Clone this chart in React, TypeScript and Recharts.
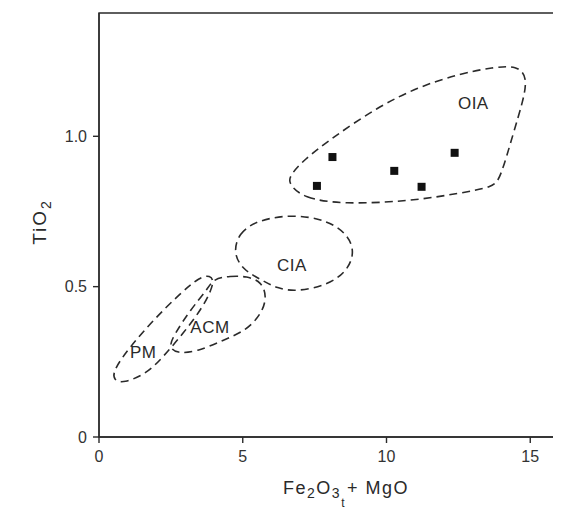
import { ScatterChart, Scatter, XAxis, YAxis, ReferenceArea } from 'recharts';

// axis ticks
const xTicks = [0, 5, 10, 15];
const yTicks = [0, 0.5, 1.0];
const yTickLabels = ['0', '0.5', '1.0'];

// field outlines (Fe2O3t + MgO vs TiO2)
const oiaOutline = [
  { x: 6.58, y: 0.844 }, { x: 7.1, y: 0.794 }, { x: 8.49, y: 0.774 }, { x: 10.82, y: 0.784 },
  { x: 12.57, y: 0.811 }, { x: 13.71, y: 0.831 }, { x: 13.96, y: 0.86 }, { x: 14.41, y: 1.01 },
  { x: 14.76, y: 1.12 }, { x: 14.9, y: 1.196 }, { x: 14.55, y: 1.236 }, { x: 13.71, y: 1.229 },
  { x: 12.57, y: 1.209 }, { x: 11.07, y: 1.163 }, { x: 9.68, y: 1.096 }, { x: 8.14, y: 0.997 },
  { x: 7.1, y: 0.92 }, { x: 6.65, y: 0.87 },
];

const ciaOutline = [
  { x: 4.67, y: 0.61 }, { x: 4.85, y: 0.677 }, { x: 5.49, y: 0.721 }, { x: 6.76, y: 0.741 },
  { x: 7.93, y: 0.721 }, { x: 8.62, y: 0.677 }, { x: 8.91, y: 0.616 }, { x: 8.62, y: 0.549 },
  { x: 7.93, y: 0.505 }, { x: 6.88, y: 0.483 }, { x: 6.19, y: 0.494 }, { x: 5.66, y: 0.522 },
  { x: 5.02, y: 0.555 },
];

const acmOutline = [
  { x: 3.98, y: 0.527 }, { x: 4.56, y: 0.535 }, { x: 5.14, y: 0.535 }, { x: 5.66, y: 0.516 },
  { x: 5.84, y: 0.466 }, { x: 5.66, y: 0.411 }, { x: 5.14, y: 0.355 }, { x: 4.33, y: 0.322 },
  { x: 3.4, y: 0.283 }, { x: 2.7, y: 0.278 }, { x: 2.41, y: 0.3 }, { x: 2.65, y: 0.345 },
  { x: 3.17, y: 0.422 }, { x: 3.75, y: 0.488 },
];

const pmOutline = [
  { x: 3.86, y: 0.538 }, { x: 4.04, y: 0.516 }, { x: 3.63, y: 0.433 }, { x: 2.93, y: 0.345 },
  { x: 2.24, y: 0.267 }, { x: 1.66, y: 0.211 }, { x: 0.85, y: 0.178 }, { x: 0.5, y: 0.189 },
  { x: 0.5, y: 0.223 }, { x: 1.08, y: 0.3 }, { x: 1.89, y: 0.389 }, { x: 2.82, y: 0.477 },
  { x: 3.52, y: 0.533 },
];

// sample points (filled squares)
const samples = [
  { x: 8.12, y: 0.931 },
  { x: 7.58, y: 0.835 },
  { x: 10.27, y: 0.885 },
  { x: 11.22, y: 0.832 },
  { x: 12.37, y: 0.945 },
];

const regionLabels = [
  { x: 13.02, y: 1.11, name: 'OIA' },
  { x: 6.71, y: 0.571, name: 'CIA' },
  { x: 3.86, y: 0.364, name: 'ACM' },
  { x: 1.54, y: 0.28, name: 'PM' },
];

const INK = '#2a2a2a';
const FONT = '"Liberation Sans", Arial, sans-serif';
const dashLine = { stroke: INK, strokeWidth: 1.6, strokeDasharray: '8 5' };

const NoDot = () => <g />;

const Square = (p: any) => (
  <rect x={p.cx - 4} y={p.cy - 4} width={8} height={8} fill="#111" />
);

const RegionText = (p: any) => (
  <text
    x={p.cx}
    y={p.cy}
    textAnchor="middle"
    dominantBaseline="central"
    fontFamily={FONT}
    fontSize={17}
    fill={INK}
    letterSpacing={0.5}
  >
    {p.payload.name}
  </text>
);

const XTitle = (props: any) => {
  const vb = props.viewBox;
  const x = vb.x + vb.width / 2 - 46;
  const y = vb.y + 57;
  return (
    <text x={x} y={y} fontFamily={FONT} fontSize={18} fill={INK} letterSpacing={1.5}>
      <tspan>Fe</tspan>
      <tspan dy={4} fontSize={14}>2</tspan>
      <tspan dy={-4}>O</tspan>
      <tspan dy={4} fontSize={14}>3</tspan>
      <tspan dy={9} fontSize={12}>t</tspan>
      <tspan dy={-13} dx={1}>+  MgO</tspan>
    </text>
  );
};

const YTitle = (props: any) => {
  const vb = props.viewBox;
  const cx = vb.x + 38;
  const cy = vb.y + vb.height / 2 - 3;
  return (
    <text
      x={cx}
      y={cy}
      transform={`rotate(-90 ${cx} ${cy})`}
      textAnchor="middle"
      fontFamily={FONT}
      fontSize={19}
      fill={INK}
      letterSpacing={2}
    >
      <tspan>TiO</tspan>
      <tspan dy={5} fontSize={14}>2</tspan>
    </text>
  );
};

export default function App() {
  return (
    <div style={{ width: 553, height: 505, background: '#fff' }}>
      <ScatterChart width={553} height={505} margin={{ top: 5, right: 2, left: 0, bottom: 0 }}>
        <XAxis
          type="number"
          dataKey="x"
          domain={[0, 16]}
          ticks={xTicks}
          height={76}
          stroke={INK}
          strokeWidth={1.4}
          tickSize={6}
          tickMargin={8}
          tick={{ fill: '#333', fontSize: 16, fontFamily: FONT }}
          label={{ content: XTitle }}
        />
        <YAxis
          type="number"
          dataKey="y"
          domain={[0, 1.41]}
          ticks={yTicks}
          width={91}
          stroke={INK}
          strokeWidth={1.4}
          tickSize={6}
          tickMargin={6}
          tickFormatter={(v: number) => yTickLabels[yTicks.indexOf(v)]}
          tick={{ fill: '#333', fontSize: 16, fontFamily: FONT }}
          label={{ content: YTitle }}
        />
        <ReferenceArea
          x1={0}
          x2={16}
          y1={0}
          y2={1.41}
          fill="none"
          stroke={INK}
          strokeWidth={1.4}
          fillOpacity={0}
        />
        <Scatter data={oiaOutline} line={dashLine} lineJointType="basisClosed" shape={NoDot} isAnimationActive={false} />
        <Scatter data={ciaOutline} line={dashLine} lineJointType="basisClosed" shape={NoDot} isAnimationActive={false} />
        <Scatter data={acmOutline} line={dashLine} lineJointType="basisClosed" shape={NoDot} isAnimationActive={false} />
        <Scatter data={pmOutline} line={dashLine} lineJointType="basisClosed" shape={NoDot} isAnimationActive={false} />
        <Scatter data={samples} shape={Square} isAnimationActive={false} />
        <Scatter data={regionLabels} shape={RegionText} isAnimationActive={false} />
      </ScatterChart>
    </div>
  );
}
